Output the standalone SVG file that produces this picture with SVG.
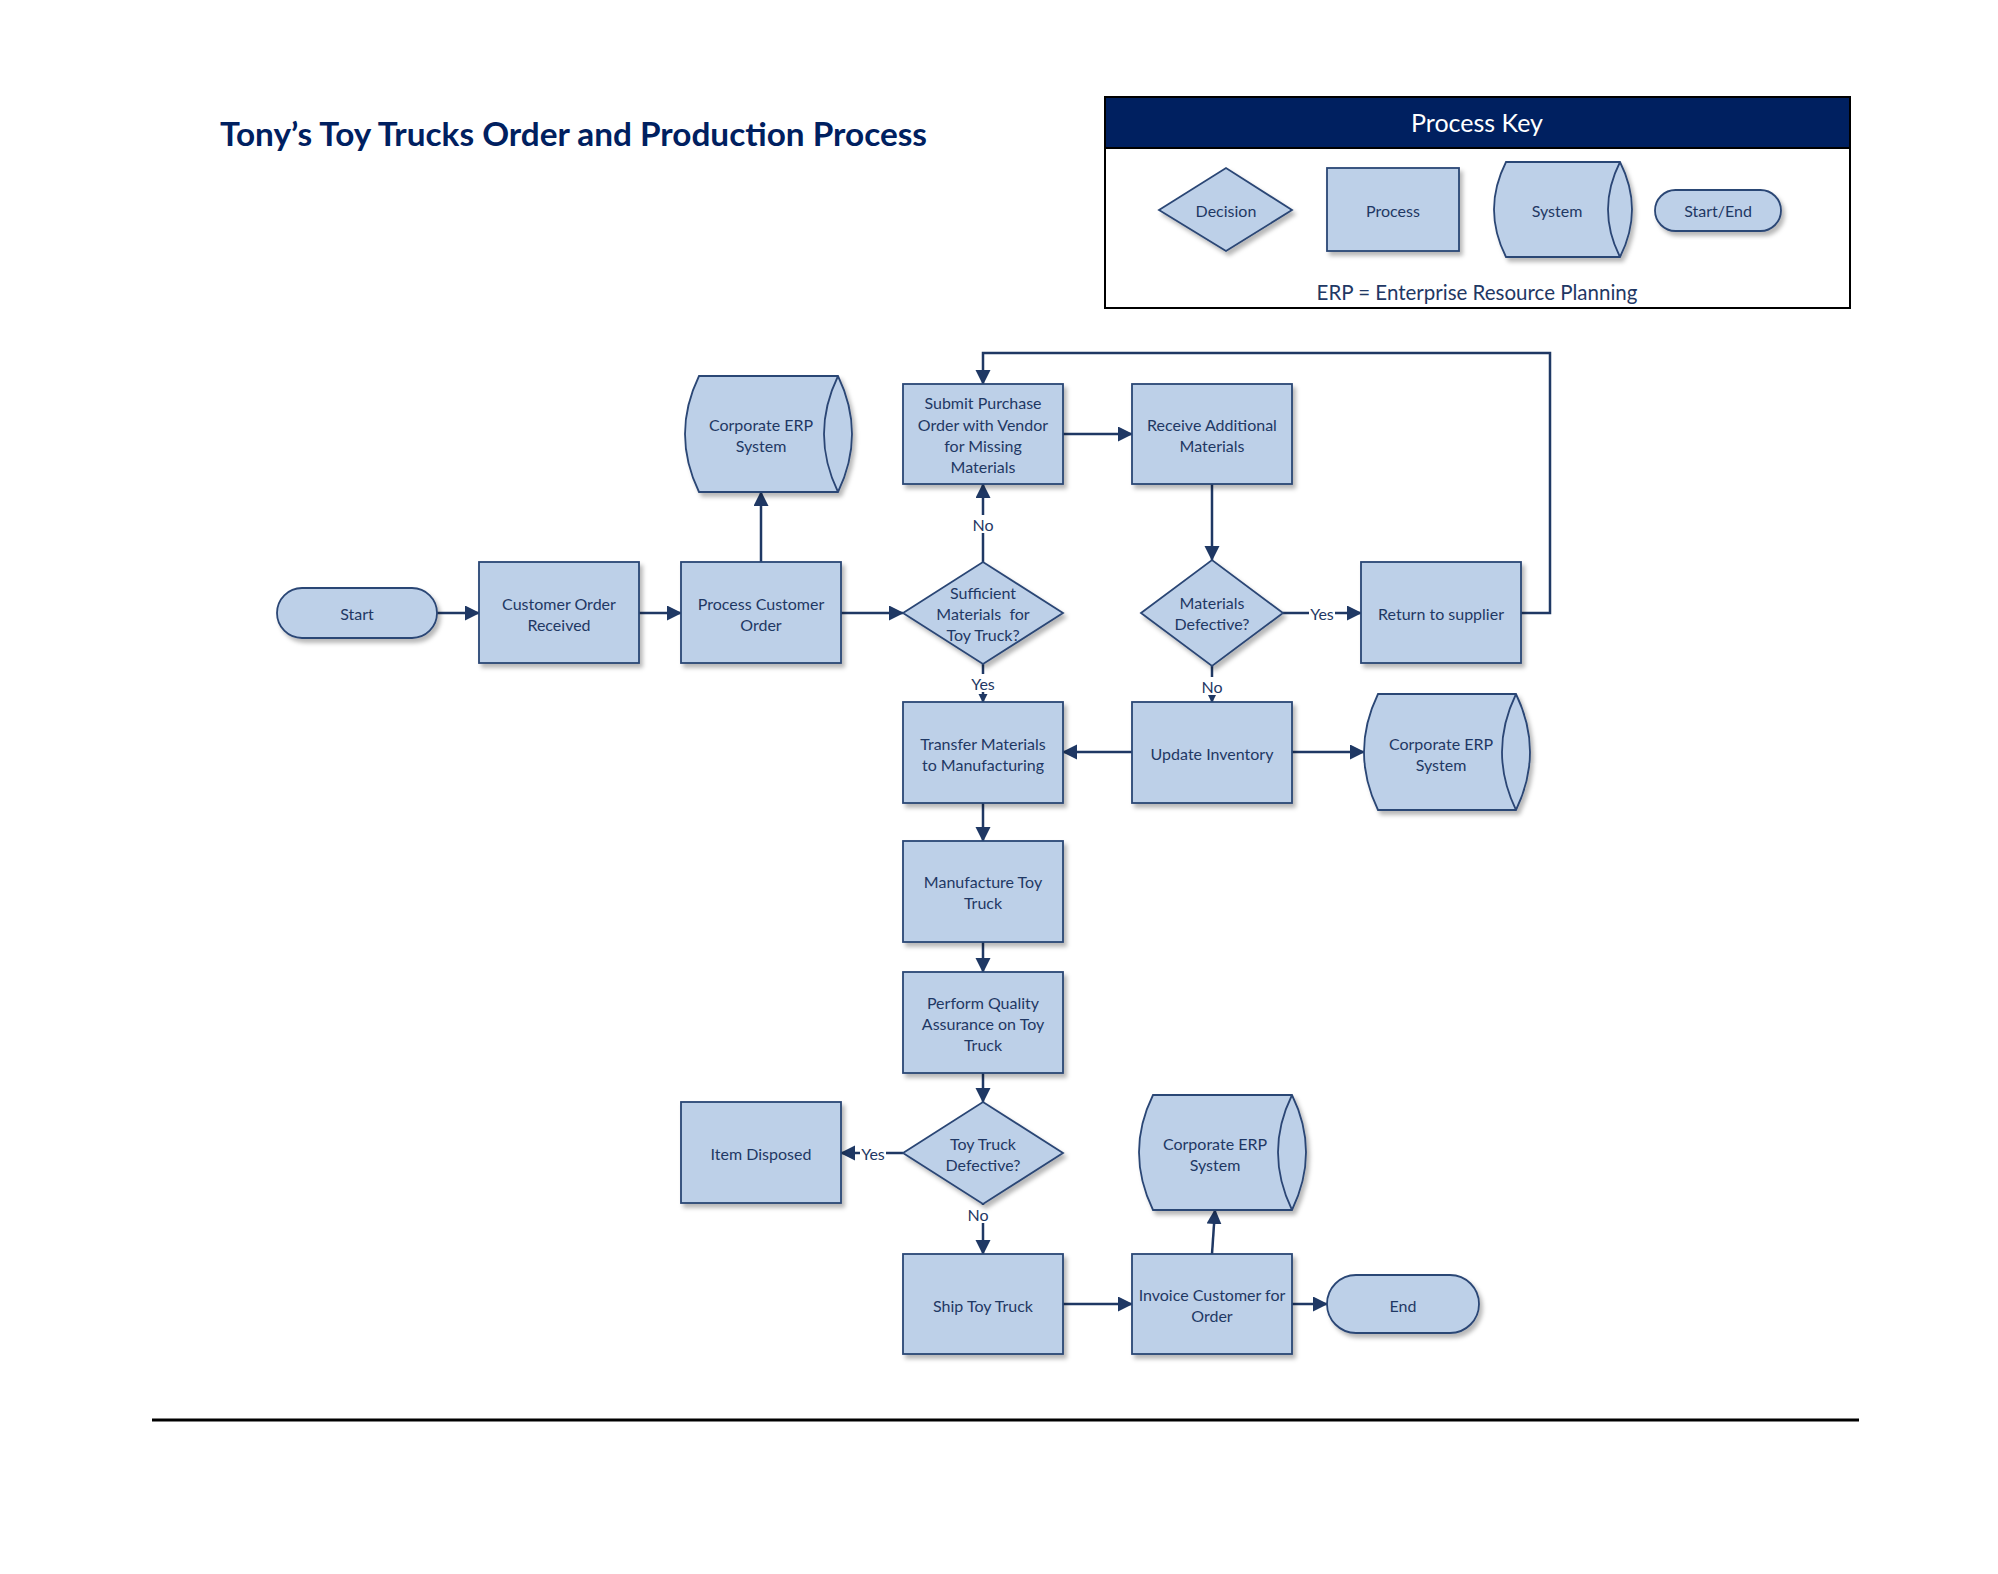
<svg xmlns="http://www.w3.org/2000/svg" width="1998" height="1574" viewBox="0 0 1998 1574">
<style>
.shape{fill:#BDD0E8;stroke:#2B4675;stroke-width:1.8;filter:url(#sh)}
.inner{fill:none;stroke:#2B4675;stroke-width:1.8}
.t{font-family:Lato,"Liberation Sans",sans-serif;font-size:16px;fill:#1F3864;text-anchor:middle;dominant-baseline:central}
.lbl{font-family:Lato,"Liberation Sans",sans-serif;font-size:16px;fill:#1F3864;text-anchor:middle;dominant-baseline:central}
.c{fill:none;stroke:#1F3864;stroke-width:2.5}
.a{marker-end:url(#ah)}
.s{marker-end:url(#as)}
.bg{fill:#fff}
</style>
<defs>
<filter id="sh" x="-10%" y="-10%" width="125%" height="130%">
<feDropShadow dx="3" dy="4" stdDeviation="2" flood-color="#000" flood-opacity="0.28"/>
</filter>
<marker id="ah" markerUnits="userSpaceOnUse" markerWidth="16" markerHeight="16" refX="14" refY="7.5" orient="auto">
<path d="M0,0 L15,7.5 L0,15 Z" fill="#1F3864"/>
</marker>
<marker id="as" markerUnits="userSpaceOnUse" markerWidth="10" markerHeight="10" refX="8" refY="4.5" orient="auto">
<path d="M0,0 L9,4.5 L0,9 Z" fill="#1F3864"/>
</marker>
</defs>
<rect width="1998" height="1574" fill="#fff"/>

<text x="220" y="133" font-family="Lato,'Liberation Sans',sans-serif" font-weight="bold" font-size="32" fill="#002060" dominant-baseline="central" textLength="707" lengthAdjust="spacingAndGlyphs">Tony’s Toy Trucks Order and Production Process</text>

<g id="legend">
<rect x="1105" y="97" width="745" height="211" fill="#fff" stroke="#000" stroke-width="2"/>
<rect x="1105" y="97" width="745" height="51" fill="#002060" stroke="#000" stroke-width="2"/>
<text x="1477" y="122" font-family="Lato,'Liberation Sans',sans-serif" font-size="25" fill="#fff" text-anchor="middle" dominant-baseline="central">Process Key</text>
<polygon class="shape" points="1159,210 1226,168 1292,210 1226,251"/>
<text class="t" x="1226" y="210">Decision</text>
<rect class="shape" x="1327" y="168" width="132" height="83"/>
<text class="t" x="1393" y="210">Process</text>
<path class="shape" d="M1506,162 L1620,162 Q1644,209.5 1620,257 L1506,257 Q1482,209.5 1506,162 Z"/>
<path class="inner" d="M1620,162 Q1596,209.5 1620,257"/>
<text class="t" x="1557" y="210">System</text>
<rect class="shape" x="1655" y="190" width="126" height="41" rx="20.5"/>
<text class="t" x="1718" y="210">Start/End</text>
<text x="1477" y="292" font-family="Lato,'Liberation Sans',sans-serif" font-size="20.5" fill="#1F3864" text-anchor="middle" dominant-baseline="central">ERP = Enterprise Resource Planning</text>
</g>

<g id="connectors">
<path class="c a" d="M437,613 H479"/>
<path class="c a" d="M639,613 H681"/>
<path class="c a" d="M761,562 V492"/>
<path class="c a" d="M841,613 H903"/>
<path class="c a" d="M983,562 V484"/>
<path class="c a" d="M1063,434 H1132"/>
<path class="c a" d="M1212,484 V560"/>
<path class="c a" d="M1283,613 H1361"/>
<path class="c a" d="M1521,613 H1550 V353 H983 V384"/>
<path class="c s" d="M983,664 V702"/>
<path class="c s" d="M1212,666 V702"/>
<path class="c a" d="M1132,752 H1063"/>
<path class="c a" d="M1292,752 H1364"/>
<path class="c a" d="M983,803 V841"/>
<path class="c a" d="M983,942 V972"/>
<path class="c a" d="M983,1073 V1102"/>
<path class="c a" d="M903,1153 H841"/>
<path class="c a" d="M983,1204 V1254"/>
<path class="c a" d="M1063,1304 H1132"/>
<path class="c a" d="M1212,1254 L1215,1210"/>
<path class="c a" d="M1292,1304 H1327"/>
<rect class="bg" x="971" y="515" width="24" height="18"/>
<text class="lbl" x="983" y="524">No</text>
<rect class="bg" x="969" y="674" width="28" height="18"/>
<text class="lbl" x="983" y="683">Yes</text>
<rect class="bg" x="1200" y="677" width="24" height="18"/>
<text class="lbl" x="1212" y="686">No</text>
<rect class="bg" x="1309" y="604" width="26" height="18"/>
<text class="lbl" x="1322" y="613">Yes</text>
<rect class="bg" x="860" y="1144" width="26" height="18"/>
<text class="lbl" x="873" y="1153">Yes</text>
<rect class="bg" x="966" y="1205" width="24" height="18"/>
<text class="lbl" x="978" y="1214">No</text>
</g>

<g id="start"><rect class="shape" x="277" y="588" width="160" height="50" rx="25"/><text class="t" x="357" y="613">Start</text></g>
<g id="customer-order"><rect class="shape" x="479" y="562" width="160" height="101"/><text class="t" x="559" y="603">Customer Order</text><text class="t" x="559" y="624">Received</text></g>
<g id="process-order"><rect class="shape" x="681" y="562" width="160" height="101"/><text class="t" x="761" y="603">Process Customer</text><text class="t" x="761" y="624">Order</text></g>
<g id="erp1"><path class="shape" d="M699,376 L838,376 Q866,434 838,492 L699,492 Q671,434 699,376 Z"/><path class="inner" d="M838,376 Q810,434 838,492"/><text class="t" x="761" y="424">Corporate ERP</text><text class="t" x="761" y="445">System</text></g>
<g id="sufficient"><polygon class="shape" points="903,613 983,562 1063,613 983,664"/><text class="t" x="983" y="592">Sufficient</text><text class="t" x="983" y="613" style="white-space:pre">Materials  for</text><text class="t" x="983" y="634">Toy Truck?</text></g>
<g id="submit-po"><rect class="shape" x="903" y="384" width="160" height="100"/><text class="t" x="983" y="402">Submit Purchase</text><text class="t" x="983" y="424">Order with Vendor</text><text class="t" x="983" y="445">for Missing</text><text class="t" x="983" y="466">Materials</text></g>
<g id="receive"><rect class="shape" x="1132" y="384" width="160" height="100"/><text class="t" x="1212" y="424">Receive Additional</text><text class="t" x="1212" y="445">Materials</text></g>
<g id="materials-defective"><polygon class="shape" points="1141,613 1212,560 1283,613 1212,666"/><text class="t" x="1212" y="602">Materials</text><text class="t" x="1212" y="623">Defective?</text></g>
<g id="return"><rect class="shape" x="1361" y="562" width="160" height="101"/><text class="t" x="1441" y="613">Return to supplier</text></g>
<g id="transfer"><rect class="shape" x="903" y="702" width="160" height="101"/><text class="t" x="983" y="743">Transfer Materials</text><text class="t" x="983" y="764">to Manufacturing</text></g>
<g id="update"><rect class="shape" x="1132" y="702" width="160" height="101"/><text class="t" x="1212" y="753">Update Inventory</text></g>
<g id="erp2"><path class="shape" d="M1378,694 L1516,694 Q1544,752 1516,810 L1378,810 Q1350,752 1378,694 Z"/><path class="inner" d="M1516,694 Q1488,752 1516,810"/><text class="t" x="1441" y="743">Corporate ERP</text><text class="t" x="1441" y="764">System</text></g>
<g id="manufacture"><rect class="shape" x="903" y="841" width="160" height="101"/><text class="t" x="983" y="881">Manufacture Toy</text><text class="t" x="983" y="902">Truck</text></g>
<g id="qa"><rect class="shape" x="903" y="972" width="160" height="101"/><text class="t" x="983" y="1002">Perform Quality</text><text class="t" x="983" y="1023">Assurance on Toy</text><text class="t" x="983" y="1044">Truck</text></g>
<g id="truck-defective"><polygon class="shape" points="903,1153 983,1102 1063,1153 983,1204"/><text class="t" x="983" y="1143">Toy Truck</text><text class="t" x="983" y="1164">Defective?</text></g>
<g id="disposed"><rect class="shape" x="681" y="1102" width="160" height="101"/><text class="t" x="761" y="1153">Item Disposed</text></g>
<g id="erp3"><path class="shape" d="M1153,1095 L1292,1095 Q1320,1152 1292,1210 L1153,1210 Q1125,1152 1153,1095 Z"/><path class="inner" d="M1292,1095 Q1264,1152 1292,1210"/><text class="t" x="1215" y="1143">Corporate ERP</text><text class="t" x="1215" y="1164">System</text></g>
<g id="ship"><rect class="shape" x="903" y="1254" width="160" height="100"/><text class="t" x="983" y="1305">Ship Toy Truck</text></g>
<g id="invoice"><rect class="shape" x="1132" y="1254" width="160" height="100"/><text class="t" x="1212" y="1294">Invoice Customer for</text><text class="t" x="1212" y="1315">Order</text></g>
<g id="end"><rect class="shape" x="1327" y="1275" width="152" height="58" rx="29"/><text class="t" x="1403" y="1305">End</text></g>

<line x1="152" y1="1420" x2="1859" y2="1420" stroke="#000" stroke-width="3"/>
</svg>
